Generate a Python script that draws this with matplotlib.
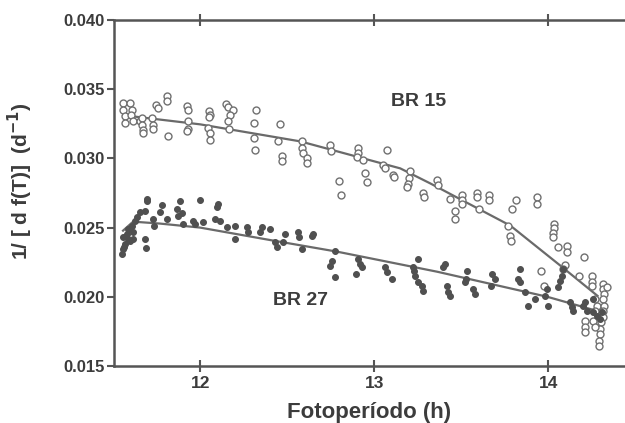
import numpy as np
import matplotlib.pyplot as plt

# BR 15 (open circles)
br15_x = [11.557, 11.557, 11.569, 11.569, 11.598, 11.609, 11.603, 11.615, 11.655, 11.667,
          11.667, 11.672, 11.672, 11.724, 11.730, 11.730, 11.747, 11.759, 11.810, 11.810,
          11.816, 11.925, 11.931, 11.931, 11.931, 11.925, 12.052, 12.057, 12.052, 12.046,
          12.057, 12.057, 12.149, 12.161, 12.190, 12.172, 12.161, 12.167, 12.322, 12.310,
          12.310, 12.316, 12.460, 12.448, 12.471, 12.471, 12.586, 12.586, 12.592, 12.615,
          12.615, 12.747, 12.753, 12.799, 12.810, 12.908, 12.908, 12.902, 12.937, 12.948,
          12.960, 13.075, 13.052, 13.063, 13.109, 13.115, 13.207, 13.201, 13.195, 13.190,
          13.282, 13.287, 13.362, 13.368, 13.437, 13.466, 13.466, 13.506, 13.506, 13.506,
          13.592, 13.592, 13.603, 13.661, 13.661, 13.816, 13.793, 13.937, 13.937, 13.770,
          13.782, 13.787, 14.034, 14.034, 14.029, 14.029, 14.057, 14.109, 14.109, 14.207,
          13.960, 14.098, 14.086, 13.977, 14.178, 14.253, 14.253, 14.253, 14.316, 14.316,
          14.322, 14.339, 14.270, 14.282, 14.270, 14.316, 14.322, 14.316, 14.316, 14.305,
          14.299, 14.299, 14.293, 14.293, 14.213, 14.213, 14.213, 14.259, 14.270]
br15_y = [0.03399, 0.03348, 0.03305, 0.03254, 0.03399, 0.03348, 0.03312, 0.03269, 0.03269, 0.03290,
          0.03240, 0.03203, 0.03182, 0.03290, 0.03240, 0.03211, 0.03385, 0.03363, 0.03450, 0.03414,
          0.03160, 0.03377, 0.03348, 0.03269, 0.03211, 0.03196, 0.03341, 0.03312, 0.03298, 0.03218,
          0.03182, 0.03131, 0.03392, 0.03370, 0.03348, 0.03312, 0.03269, 0.03211, 0.03348, 0.03254,
          0.03145, 0.03058, 0.03247, 0.03124, 0.03015, 0.02979, 0.03124, 0.03073, 0.03036, 0.03000,
          0.02964, 0.03095, 0.03051, 0.02834, 0.02732, 0.03073, 0.03036, 0.03008, 0.02986, 0.02892,
          0.02826, 0.03058, 0.02950, 0.02928, 0.02877, 0.02862, 0.02906, 0.02855, 0.02812, 0.02790,
          0.02747, 0.02718, 0.02841, 0.02805, 0.02710, 0.02623, 0.02565, 0.02732, 0.02696, 0.02674,
          0.02747, 0.02718, 0.02638, 0.02739, 0.02703, 0.02696, 0.02638, 0.02718, 0.02674, 0.02515,
          0.02442, 0.02406, 0.02529, 0.02500, 0.02464, 0.02435, 0.02362, 0.02370, 0.02326, 0.02290,
          0.02188, 0.02232, 0.02203, 0.02080, 0.02152, 0.02152, 0.02109, 0.02080, 0.02094, 0.02058,
          0.02022, 0.02072, 0.01985, 0.01935, 0.01898, 0.01985, 0.01935, 0.01898, 0.01855, 0.01819,
          0.01768, 0.01732, 0.01681, 0.01645, 0.01826, 0.01782, 0.01746, 0.01826, 0.01782]

# BR 27 (filled circles)
br27_x = [11.552, 11.557, 11.563, 11.569, 11.557, 11.580, 11.586, 11.586, 11.598, 11.609,
          11.615, 11.615, 11.626, 11.638, 11.655, 11.684, 11.684, 11.690, 11.695, 11.695,
          11.730, 11.736, 11.770, 11.782, 11.810, 11.885, 11.868, 11.874, 11.897, 11.902,
          11.960, 11.971, 12.000, 12.017, 12.098, 12.103, 12.086, 12.115, 12.155, 12.201,
          12.201, 12.270, 12.276, 12.345, 12.356, 12.402, 12.431, 12.443, 12.477, 12.489,
          12.563, 12.569, 12.586, 12.644, 12.649, 12.776, 12.759, 12.747, 12.776, 12.908,
          12.920, 12.931, 12.897, 13.063, 13.075, 13.103, 13.253, 13.224, 13.230, 13.236,
          13.253, 13.276, 13.282, 13.408, 13.397, 13.420, 13.425, 13.437, 13.534, 13.529,
          13.523, 13.569, 13.580, 13.678, 13.695, 13.672, 13.839, 13.828, 13.839, 13.868,
          13.885, 13.925, 13.983, 13.994, 14.000, 14.057, 14.069, 14.080, 14.086, 14.126,
          14.138, 14.144, 14.213, 14.201, 14.224, 14.259, 14.282, 14.299, 14.310, 14.259]
br27_y = [0.02312, 0.02348, 0.02362, 0.02384, 0.02435, 0.02457, 0.02493, 0.02420, 0.02406, 0.02515,
          0.02471, 0.02420, 0.02551, 0.02580, 0.02616, 0.02623, 0.02420, 0.02355, 0.02710, 0.02689,
          0.02565, 0.02515, 0.02616, 0.02660, 0.02565, 0.02689, 0.02638, 0.02587, 0.02602, 0.02529,
          0.02551, 0.02529, 0.02696, 0.02544, 0.02652, 0.02667, 0.02565, 0.02551, 0.02507, 0.02515,
          0.02420, 0.02507, 0.02471, 0.02471, 0.02507, 0.02493, 0.02399, 0.02362, 0.02399, 0.02457,
          0.02471, 0.02435, 0.02348, 0.02442, 0.02457, 0.02333, 0.02261, 0.02225, 0.02145, 0.02275,
          0.02239, 0.02217, 0.02167, 0.02217, 0.02181, 0.02130, 0.02275, 0.02217, 0.02188, 0.02152,
          0.02109, 0.02080, 0.02043, 0.02239, 0.02217, 0.02080, 0.02036, 0.02007, 0.02188, 0.02130,
          0.02109, 0.02058, 0.02022, 0.02167, 0.02130, 0.02080, 0.02203, 0.02130, 0.02109, 0.02036,
          0.01935, 0.01985, 0.02007, 0.02058, 0.01935, 0.02072, 0.02116, 0.02152, 0.02203, 0.01964,
          0.01927, 0.01898, 0.01964, 0.01935, 0.01898, 0.01891, 0.01862, 0.01840, 0.01891, 0.01985]

# fitted curves
fit15_x = [11.557, 12.000, 12.575, 13.149, 13.322, 13.782, 14.069, 14.282]
fit15_y = [0.03312, 0.03246, 0.03123, 0.02928, 0.02819, 0.02514, 0.02225, 0.02007]
fit27_x = [11.557, 11.615, 11.770, 12.000, 12.420, 12.787, 13.362, 13.994, 14.299]
fit27_y = [0.02478, 0.02543, 0.02529, 0.02500, 0.02406, 0.02326, 0.02181, 0.02000, 0.01891]

txt = '#3c3c3c'
plt.rcParams['font.family'] = ['Liberation Sans', 'DejaVu Sans']
plt.rcParams['font.weight'] = 'bold'

fig = plt.figure(figsize=(6.25, 4.23), dpi=100)
ax = fig.add_axes([114/625, 57/423, 511/625, 346/423])

ax.plot(fit15_x, fit15_y, color='#6a6a6a', lw=1.6, zorder=2)
ax.plot(fit27_x, fit27_y, color='#6a6a6a', lw=1.6, zorder=2)
ax.plot(br15_x, br15_y, 'o', ms=5, mfc='white', mec='#707070', mew=1.0, zorder=3)
ax.plot(br27_x, br27_y, 'o', ms=4.2, mfc='#505050', mec='#505050', mew=0.8, zorder=3)

ax.text(13.253, 0.03413, 'BR 15', color=txt, fontsize=14, fontweight='bold', ha='center', va='center')
ax.text(12.575, 0.01971, 'BR 27', color=txt, fontsize=14, fontweight='bold', ha='center', va='center')

ax.set_xlim(11.505, 14.44)
ax.set_ylim(0.015, 0.040)
ax.set_xticks([12, 13, 14])
ax.set_yticks([0.015, 0.020, 0.025, 0.030, 0.035, 0.040])
ax.set_yticklabels(['0.015', '0.020', '0.025', '0.030', '0.035', '0.040'])
ax.tick_params(axis='y', direction='out', length=5, width=1.5, colors='#555555', labelcolor=txt,
               labelsize=12, pad=2)
ax.tick_params(axis='x', direction='inout', length=8, width=1.5, colors='#555555', labelcolor=txt,
               labelsize=12.5, top=True, pad=3)

for s in ['left', 'bottom', 'top']:
    ax.spines[s].set_color('#555555')
    ax.spines[s].set_linewidth(1.8)
ax.spines['right'].set_visible(False)

ax.set_xlabel('Fotoperíodo (h)', fontsize=16, fontweight='bold', color=txt, labelpad=8)
ax.set_ylabel('1/ [ d f(T)]  (d$^{\\mathbf{-1}}$)', fontsize=15, fontweight='bold', color=txt)
ax.yaxis.set_label_coords(-0.155, 0.535)

fig.savefig('out.png', dpi=100)
